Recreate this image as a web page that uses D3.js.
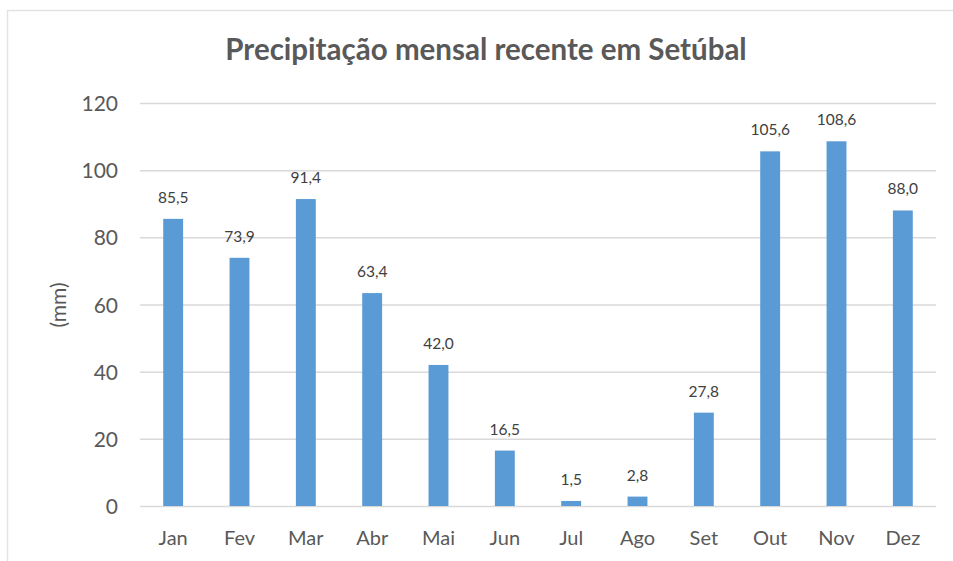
<!DOCTYPE html>
<html>
<head>
<meta charset="utf-8">
<script src="https://cdn.jsdelivr.net/npm/d3@7"></script>
<style>
  body { margin: 0; background: #fff; }
  svg text { font-family: Lato, "Open Sans", sans-serif; }
</style>
</head>
<body>
<svg id="chart" width="953" height="561"></svg>
<script>
// monthly values (mm)
var months = ["Jan","Fev","Mar","Abr","Mai","Jun","Jul","Ago","Set","Out","Nov","Dez"];
var rainfall = [85.5, 73.9, 91.4, 63.4, 42.0, 16.5, 1.5, 2.8, 27.8, 105.6, 108.6, 88.0];
var yTicks = [0, 20, 40, 60, 80, 100, 120];

var svg = d3.select("#chart");
var plotLeft = 140, plotRight = 936, plotTop = 103, plotBottom = 506;

// outer frame (cut off at the right and bottom in the source)
svg.append("rect")
    .attr("x", 7.5).attr("y", 10.5)
    .attr("width", 960).attr("height", 570)
    .attr("fill", "none")
    .attr("stroke", "#e3e3e3")
    .attr("stroke-width", 1.5);

var x = d3.scaleBand().domain(months).range([plotLeft, plotRight]).paddingInner(0.7).paddingOuter(0.35);
var y = d3.scaleLinear().domain([0, 120]).range([plotBottom, plotTop]);

// gridlines
svg.append("g").selectAll("line")
    .data(yTicks)
    .join("line")
    .attr("x1", plotLeft).attr("x2", plotRight)
    .attr("y1", function(d) { return y(d) + 0.5; })
    .attr("y2", function(d) { return y(d) + 0.5; })
    .attr("stroke", "#d9d9d9")
    .attr("stroke-width", 1.5);

// y axis labels
var yAxis = d3.axisLeft(y).tickValues(yTicks).tickSize(0).tickPadding(0);
svg.append("g")
    .attr("transform", "translate(118,0)")
    .call(yAxis)
    .call(function(g) { g.select(".domain").remove(); })
    .selectAll("text")
    .attr("font-family", "Lato, 'Open Sans', sans-serif")
    .attr("font-size", "21px")
    .attr("fill", "#595959")
    .attr("dy", "0.36em");

// x axis labels
var xAxis = d3.axisBottom(x).tickSize(0).tickPadding(0);
svg.append("g")
    .attr("transform", "translate(0,545)")
    .call(xAxis)
    .call(function(g) { g.select(".domain").remove(); })
    .selectAll("text")
    .attr("font-family", "Lato, 'Open Sans', sans-serif")
    .attr("font-size", "20px")
    .attr("fill", "#595959")
    .attr("dy", "0");

// bars
svg.append("g").selectAll("rect")
    .data(rainfall)
    .join("rect")
    .attr("x", function(d, i) { return x(months[i]); })
    .attr("y", function(d) { return y(d); })
    .attr("width", x.bandwidth())
    .attr("height", function(d) { return y(0) - y(d); })
    .attr("fill", "#5b9bd5");

// value labels
svg.append("g").selectAll("text")
    .data(rainfall)
    .join("text")
    .attr("x", function(d, i) { return x(months[i]) + x.bandwidth() / 2; })
    .attr("y", function(d) { return y(d) - 16; })
    .attr("text-anchor", "middle")
    .attr("font-size", "15.5px")
    .attr("fill", "#404040")
    .text(function(d) { return d.toFixed(1).replace(".", ","); });

// axis title
svg.append("text")
    .attr("transform", "translate(66,305) rotate(-90)")
    .attr("text-anchor", "middle")
    .attr("font-size", "21px")
    .attr("fill", "#595959")
    .text("(mm)");

// title
svg.append("text")
    .attr("x", 486).attr("y", 60)
    .attr("text-anchor", "middle")
    .attr("font-size", "29.5px")
    .attr("font-weight", "bold")
    .attr("fill", "#595959")
    .text("Precipitação mensal recente em Setúbal");
</script>
</body>
</html>
